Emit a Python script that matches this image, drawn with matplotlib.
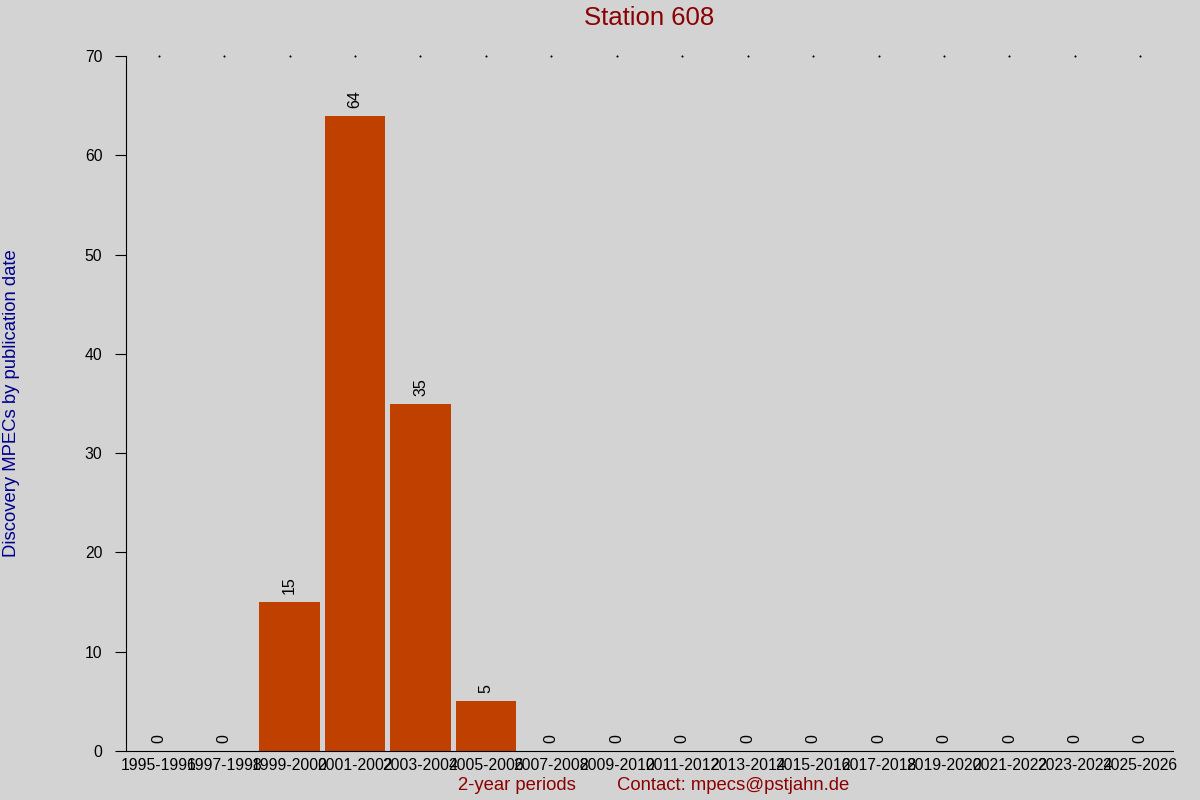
import matplotlib
matplotlib.use("Agg")
import matplotlib.pyplot as plt
import numpy as np

plt.rcParams['font.family'] = ['Liberation Sans', 'DejaVu Sans']

periods = ['1995-1996', '1997-1998', '1999-2000', '2001-2002', '2003-2004',
           '2005-2006', '2007-2008', '2009-2010', '2011-2012', '2013-2014',
           '2015-2016', '2017-2018', '2019-2020', '2021-2022', '2023-2024',
           '2025-2026']
counts = [0, 0, 15, 64, 35, 5, 0, 0, 0, 0, 0, 0, 0, 0, 0, 0]

bg = '#d3d3d3'
fig = plt.figure(figsize=(12, 8), dpi=100, facecolor=bg)
ax = fig.add_axes([0.105, 0.06125, 0.8725, 0.86875], facecolor=bg)

x = np.arange(len(periods))
ax.bar(x, counts, width=0.92, color='#c04000')

# value labels above bars
for xi, v in zip(x, counts):
    ax.text(xi, v + 0.8, str(v), rotation=90, ha='center', va='bottom', fontsize=11.5)

# small dots along the top
ax.plot(x, [70] * len(x), linestyle='none', marker='s', markersize=0.5,
        color='black', clip_on=False)

ax.set_xlim(-0.5, len(periods) - 0.5)
ax.set_ylim(0, 70)
ax.set_yticks(range(0, 71, 10))
ax.set_xticks(x)
ax.set_xticklabels(periods, fontsize=11.3)
ax.tick_params(axis='x', length=0, pad=5)
ax.tick_params(axis='y', length=8, pad=9, labelsize=11.3)

ax.spines['top'].set_visible(False)
ax.spines['right'].set_visible(False)

fig.text(0.5412, 1 - 18 / 800, 'Station 608', ha='center', va='center',
         fontsize=18.5, color='#8b0000')
fig.text(12 / 1200, 1 - 403 / 800, 'Discovery MPECs by publication date',
         rotation=90, ha='center', va='center', fontsize=13.3, color='#00008b')
fig.text(517 / 1200, 1 - 786 / 800, '2-year periods', ha='center', va='center',
         fontsize=13.3, color='#8b0000')
fig.text(733 / 1200, 1 - 786 / 800, 'Contact: mpecs@pstjahn.de', ha='center',
         va='center', fontsize=13.3, color='#8b0000')

fig.savefig('out.png', dpi=100, facecolor=bg)
